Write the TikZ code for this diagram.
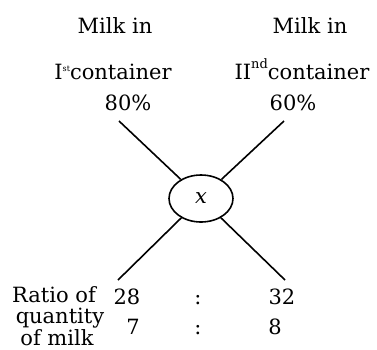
\documentclass[tikz,border=0pt]{standalone}
\usepackage{fontspec}
\setmainfont{DejaVu Serif}
\usetikzlibrary{shapes.geometric}
\begin{document}
\begin{tikzpicture}[x=1pt,y=-1pt,
  lbl/.style={inner sep=0pt,anchor=base,font=\fontsize{21}{24}\selectfont},
  conn/.style={line width=1.6pt}]
\useasboundingbox (0,0) rectangle (377,349);
\node[lbl] (m1) at (115,33) {Milk in};
\node[lbl] (m2) at (310,33) {Milk in};
\node[lbl] (c1) at (113,79) {I\raisebox{8pt}{\fontsize{8}{8}\selectfont st}container};
\node[lbl] (c2) at (302,79) {II\raisebox{11pt}{\fontsize{13}{13}\selectfont nd}container};
\node[lbl] (p1) at (128,110) {80\%};
\node[lbl] (p2) at (293,110) {60\%};
\node[ellipse,draw,line width=1.6pt,minimum width=64pt,minimum height=47pt,inner sep=0pt] (e) at (201,198.5) {\fontsize{21}{24}\selectfont\textit{x}};
\coordinate (tl) at (119,121);
\coordinate (tr) at (284,121);
\coordinate (bl) at (118,280);
\coordinate (br) at (285,280);
\draw[conn] (tl) -- (e);
\draw[conn] (tr) -- (e);
\draw[conn] (bl) -- (e);
\draw[conn] (br) -- (e);
\node[lbl] (r1) at (54,302) {Ratio of};
\node[lbl] (r2) at (60,323) {quantity};
\node[lbl] (r3) at (57,345) {of milk};
\node[lbl] (a1) at (127,304.5) {28};
\node[lbl] (k1) at (198,304.5) {:};
\node[lbl] (b1) at (282,304.5) {32};
\node[lbl] (a2) at (133,334) {7};
\node[lbl] (k2) at (198,334) {:};
\node[lbl] (b2) at (275,334) {8};
\end{tikzpicture}
\end{document}
